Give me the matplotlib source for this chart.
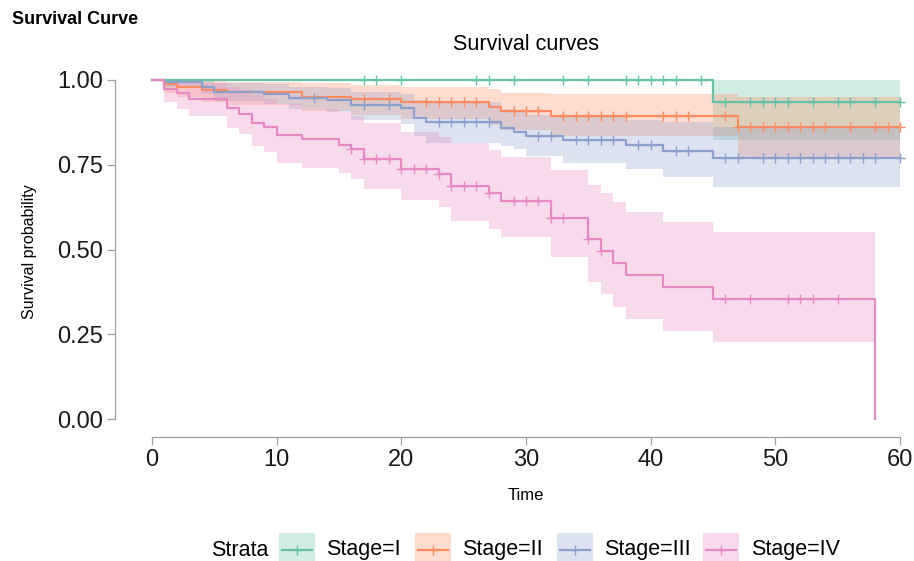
import numpy as np
import matplotlib
matplotlib.use('Agg')
import matplotlib.pyplot as plt
from matplotlib.patches import Rectangle
from matplotlib.lines import Line2D

plt.rcParams['font.family'] = ['Liberation Sans', 'DejaVu Sans']

# ---------------- data ----------------
strata = ['Stage=I', 'Stage=II', 'Stage=III', 'Stage=IV']
colors = ['#66C2A5', '#FC8D62', '#8DA0CB', '#E78AC3']

times_I = [0, 45]
surv_I = [1.0, 0.936]
lower_I = [1.0, 0.823]
upper_I = [1.0, 1.0]
end_I = 60
cens_I = [17, 18, 20, 26, 27, 29, 33, 35, 38, 39, 40, 41, 42, 44,
          46, 48, 49, 50, 51, 53, 55, 56, 58, 60]

times_II = [0, 1, 2, 4, 6, 12, 16, 20, 27, 28, 32, 47]
surv_II = [1.0, 0.987, 0.980, 0.971, 0.964, 0.951, 0.943, 0.935, 0.921, 0.909, 0.895, 0.860]
lower_II = [1.0, 0.962, 0.950, 0.935, 0.925, 0.908, 0.897, 0.886, 0.868, 0.853, 0.836, 0.774]
upper_II = [1.0, 1.0, 1.0, 0.998, 0.995, 0.990, 0.985, 0.980, 0.972, 0.963, 0.960, 0.951]
end_II = 60
cens_II = [17, 19, 22, 23, 24, 25, 26, 29, 30, 31, 33, 34, 35, 36, 37, 38, 41, 42, 43,
           46, 47, 48, 49, 50, 51, 52, 53, 54, 56, 58, 59, 60]

times_III = [0, 1, 4, 5, 9, 11, 14, 16, 20, 21, 22, 28, 29, 30, 33, 38, 41, 45]
surv_III = [1.0, 0.993, 0.979, 0.965, 0.958, 0.948, 0.941, 0.926, 0.916, 0.887, 0.876,
            0.857, 0.848, 0.836, 0.823, 0.808, 0.792, 0.771]
lower_III = [1.0, 0.980, 0.958, 0.938, 0.928, 0.915, 0.905, 0.882, 0.869, 0.835, 0.813,
             0.805, 0.795, 0.775, 0.755, 0.737, 0.713, 0.685]
upper_III = [1.0, 1.0, 0.998, 0.990, 0.987, 0.980, 0.976, 0.965, 0.960, 0.940, 0.935,
             0.915, 0.907, 0.897, 0.890, 0.883, 0.877, 0.862]
end_III = 60
cens_III = [13, 17, 19, 23, 24, 25, 26, 27, 31, 32, 34, 35, 36, 37, 39, 40, 42, 43,
            46, 47, 49, 50, 51, 52, 53, 54, 55, 56, 57, 58, 60]

times_IV = [0, 1, 2, 3, 6, 7, 8, 9, 10, 12, 15, 16, 17, 20, 23, 24, 27, 28, 32, 35, 36,
            37, 38, 41, 45, 58]
surv_IV = [1.0, 0.972, 0.962, 0.943, 0.918, 0.901, 0.874, 0.862, 0.838, 0.826, 0.808,
           0.797, 0.767, 0.738, 0.723, 0.688, 0.666, 0.642, 0.592, 0.530, 0.497, 0.460,
           0.425, 0.390, 0.354, 0.0]
lower_IV = [1.0, 0.936, 0.914, 0.895, 0.858, 0.840, 0.805, 0.788, 0.756, 0.740, 0.725,
            0.708, 0.678, 0.646, 0.626, 0.585, 0.560, 0.536, 0.477, 0.405, 0.369, 0.331,
            0.295, 0.260, 0.226, np.nan]
upper_IV = [1.0, 1.0, 0.997, 0.990, 0.980, 0.970, 0.955, 0.945, 0.930, 0.915, 0.905,
            0.895, 0.872, 0.847, 0.833, 0.813, 0.794, 0.774, 0.735, 0.690, 0.666, 0.639,
            0.611, 0.582, 0.553, np.nan]
end_IV = 58
cens_IV = [16, 17, 18, 19, 20, 21, 22, 23, 24, 25, 26, 27, 29, 30, 31, 32, 33, 35, 36,
           46, 48, 51, 52, 53, 55]

x_ticks = [0, 10, 20, 30, 40, 50, 60]
y_ticks = [0.0, 0.25, 0.5, 0.75, 1.0]
y_ticklabels = ['0.00', '0.25', '0.50', '0.75', '1.00']

series = [
    (times_I, surv_I, lower_I, upper_I, end_I, cens_I),
    (times_II, surv_II, lower_II, upper_II, end_II, cens_II),
    (times_III, surv_III, lower_III, upper_III, end_III, cens_III),
    (times_IV, surv_IV, lower_IV, upper_IV, end_IV, cens_IV),
]

# ---------------- layout ----------------
W, H = 914, 561
def fx(px):
    return px / W
def fy(py):
    return 1 - py / H

fig = plt.figure(figsize=(W / 100, H / 100), dpi=100)
L, R, T, B = 135, 912, 70, 428
ax = fig.add_axes([fx(L), fy(B), (R - L) / W, (B - T) / H])
x0px, xs = 152, (900 - 152) / 60
y0px, ys = 419, 339
ax.set_xlim((L - x0px) / xs, (R - x0px) / xs)
ax.set_ylim((y0px - B) / ys, (y0px - T) / ys)

ALPHA = 0.3
for (t, s, lo, up, end, cens), c in zip(series, colors):
    t = np.array(t, float); s = np.array(s, float)
    lo = np.array(lo, float); up = np.array(up, float)
    valid = ~np.isnan(lo)
    rt = t[valid]
    rend = t[~valid][0] if (~valid).any() else end
    rt = np.append(rt, rend)
    rl = np.append(lo[valid], lo[valid][-1])
    ru = np.append(up[valid], up[valid][-1])
    ax.fill_between(rt, rl, ru, step='post', color=c, alpha=ALPHA, lw=0, zorder=1)
    if end > t[-1]:
        lt = np.append(t, end); ls = np.append(s, s[-1])
    else:
        lt, ls = t, s
    ax.step(lt, ls, where='post', color=c, lw=1.6, zorder=3)
    cens = np.array(cens, float)
    idx = np.searchsorted(t, cens, side='right') - 1
    ax.plot(cens, s[idx], ls='none', marker='+', ms=6.5, mew=1.0, color=c, zorder=4)

for sp in ['top', 'right']:
    ax.spines[sp].set_visible(False)
axis_col = '#a0a0a0'
ax.spines['left'].set_position(('outward', (L - 115) * 0.72))
ax.spines['left'].set_bounds(0, 1)
ax.spines['bottom'].set_position(('outward', (437 - B) * 0.72))
ax.spines['bottom'].set_bounds(0, 60)
for sp in ['left', 'bottom']:
    ax.spines[sp].set_color(axis_col)
    ax.spines[sp].set_linewidth(0.9)

ax.set_xticks(x_ticks)
ax.set_xticklabels([str(v) for v in x_ticks])
ax.set_yticks(y_ticks)
ax.set_yticklabels(y_ticklabels)
ax.tick_params(axis='both', length=5.8, width=0.9, color=axis_col,
               labelsize=17, labelcolor='#1a1a1a')
ax.tick_params(axis='y', pad=2.5)
ax.tick_params(axis='x', pad=3)
ax.patch.set_visible(False)

# ---------------- texts ----------------
fig.text(fx(12), fy(20), 'Survival Curve', fontweight='bold', fontsize=13,
         ha='left', va='center')
fig.text(fx(526), fy(45), 'Survival curves', fontsize=15.5, ha='center', va='center')
fig.text(fx(30), fy(252), 'Survival probability', rotation=90, fontsize=11.5,
         ha='center', va='center')
fig.text(fx(526), fy(496), 'Time', fontsize=12, ha='center', va='center')

# ---------------- legend ----------------
fig.text(fx(211), fy(550), 'Strata', fontsize=15.5, ha='left', va='center')
box_x = [279, 415, 557, 703]
text_x = [326, 462, 604, 751]
for name, c, bx, tx in zip(strata, colors, box_x, text_x):
    fig.patches.append(Rectangle((fx(bx), fy(569)), 36 / W, 36 / H,
                                 transform=fig.transFigure, facecolor=c,
                                 alpha=ALPHA, lw=0))
    fig.lines.append(Line2D([fx(bx + 3), fx(bx + 33)], [fy(550), fy(550)],
                            transform=fig.transFigure, color=c, lw=1.6))
    fig.lines.append(Line2D([fx(bx + 18)], [fy(550)], transform=fig.transFigure,
                            color=c, marker='+', ms=6.5, mew=1.0, ls='none'))
    fig.text(fx(tx), fy(550), name, fontsize=15.5, ha='left', va='center')

fig.savefig('out.png', dpi=100)
